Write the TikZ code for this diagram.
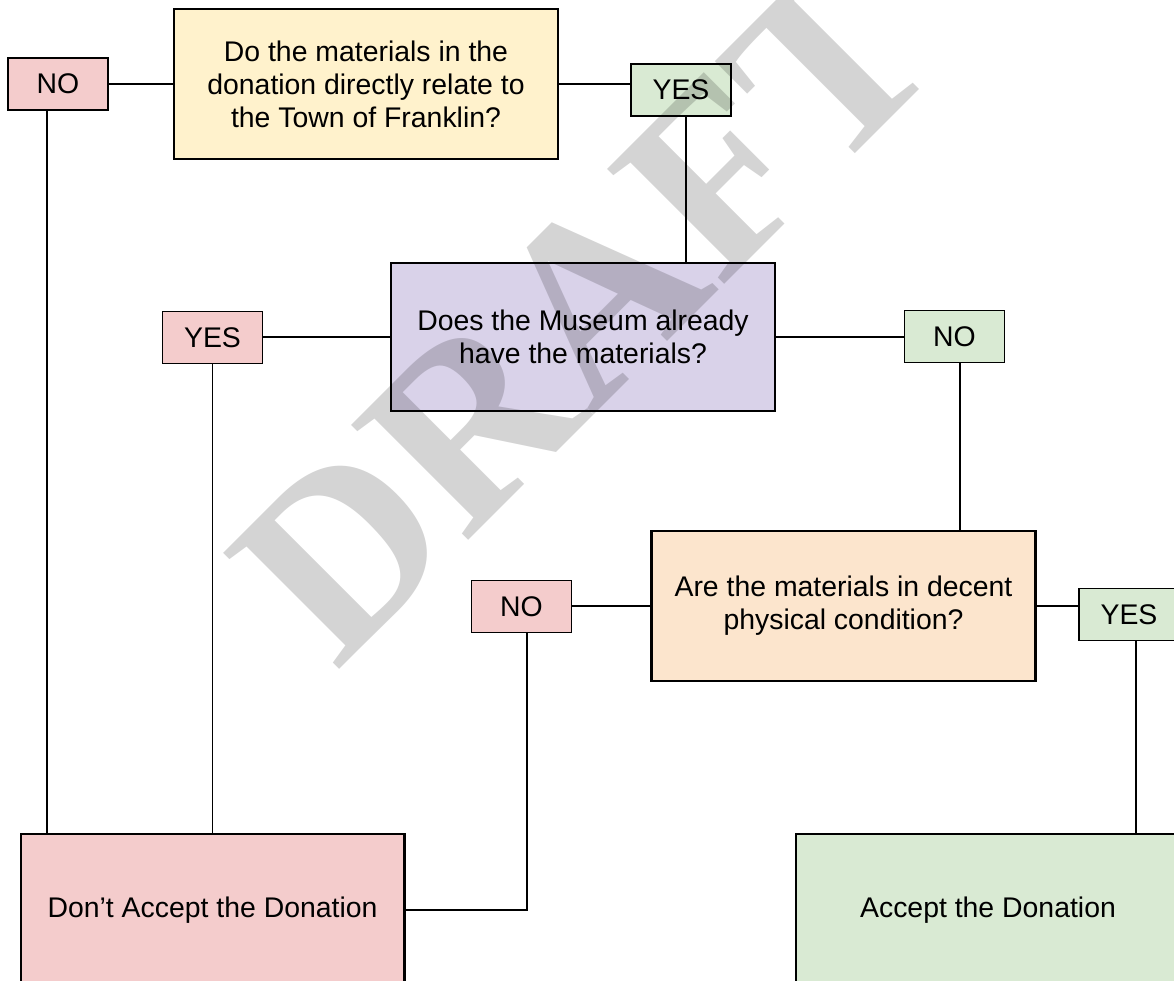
\documentclass[tikz,border=0pt]{standalone}
\usepackage{fontspec}
\setmainfont{Liberation Sans}
\newfontfamily\wmfont{Liberation Serif}
\definecolor{qyellow}{HTML}{FFF2CC}
\definecolor{qpurple}{HTML}{D9D2E9}
\definecolor{qorange}{HTML}{FCE5CD}
\definecolor{nred}{HTML}{F4CCCC}
\definecolor{ygreen}{HTML}{D9EAD3}
\usepackage{tikz}
\usetikzlibrary{positioning}

\begin{document}
\begin{tikzpicture}[x=0.75pt,y=-0.75pt,
	every node/.style={font=\fontsize{21.3}{24.75}\selectfont, align=center, inner sep=0pt},
	question/.style={draw, line width=2pt, minimum width=288pt, minimum height=112.5pt},
	answer/.style={draw, line width=0.9pt, minimum width=75pt, minimum height=39pt},
	outcome/.style={draw, line width=2pt, minimum width=287.5pt, minimum height=114pt},
	link/.style={line width=1pt}]
	\useasboundingbox (0,0) rectangle (1174,981);
	\clip (0,0) rectangle (1174,981);
	% questions
	\node[question, fill=qyellow] (q1) at (366,84) {Do the materials in the\\donation directly relate to\\the Town of Franklin?};
	\node[question, fill=qpurple, minimum height=111pt] (q2) at (583,337) {Does the Museum already\\have the materials?};
	\node[question, fill=qorange] (q3) at (843.5,606) {Are the materials in decent\\physical condition?};
	% answers
	\node[answer, fill=nred] (no1) at (58,84) {NO};
	\node[answer, fill=ygreen] (yes1) at (681,90) {YES};
	\node[answer, fill=nred] (yes2) at (212.5,337.5) {YES};
	\node[answer, fill=ygreen] (no2) at (954.5,336.5) {NO};
	\node[answer, fill=nred] (no3) at (521.5,606.5) {NO};
	\node[answer, fill=ygreen] (yes3) at (1129,614.5) {YES};
	% outcomes
	\node[outcome, fill=nred] (dont) at (212.5,910) {Don’t Accept the Donation};
	\node[outcome, fill=ygreen, minimum width=288pt] (accept) at (988,910) {Accept the Donation};
	% connectors
	\coordinate (n1a) at ([xshift=-8.25pt]no1.south);
	\coordinate (y1a) at ([xshift=3.75pt]yes1.south);
	\coordinate (n2a) at ([xshift=4pt]no2.south);
	\coordinate (n3a) at ([xshift=4.1pt]no3.south);
	\coordinate (y3a) at ([xshift=5.25pt]yes3.south);
	\draw[link] (no1.east) -- (q1.west);
	\draw[link] (q1.east) -- (q1.east -| yes1.west);
	\draw[link] (y1a) -- (y1a |- q2.north);
	\draw[link] (q2.west) -- (q2.west -| yes2.east);
	\draw[link] (q2.east) -- (q2.east -| no2.west);
	\draw[link] (n2a) -- (n2a |- q3.north);
	\draw[link] (q3.west) -- (q3.west -| no3.east);
	\draw[link] (q3.east) -- (q3.east -| yes3.west);
	\draw[link] (y3a) -- (y3a |- accept.north);
	\draw[link] (n1a) -- (n1a |- dont.north);
	\draw[link] (yes2.south) -- (yes2.south |- dont.north);
	\draw[link] (n3a) |- (dont.east);
	% watermark
	\node[rotate=45, font=\wmfont\bfseries\fontsize{188}{188}\selectfont, text=black, text opacity=0.17] (mark) at (583,309) {DRAFT};
\end{tikzpicture}
\end{document}
